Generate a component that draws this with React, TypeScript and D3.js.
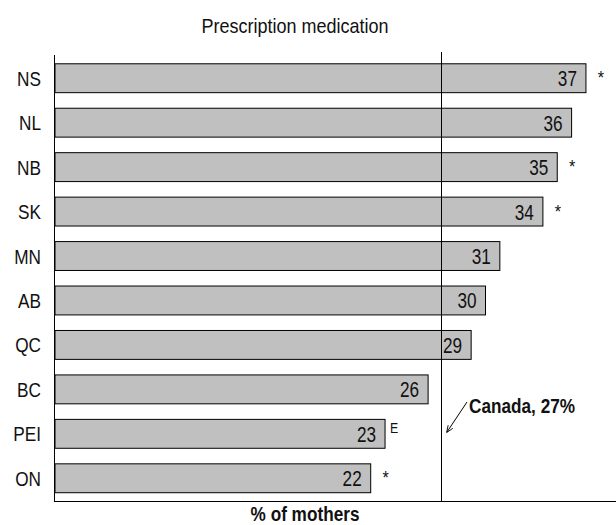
import React from "react";
import * as d3 from "d3";

// Share of mothers using prescription medication, by province
const provinces = ["NS", "NL", "NB", "SK", "MN", "AB", "QC", "BC", "PEI", "ON"];
const values = [37, 36, 35, 34, 31, 30, 29, 26, 23, 22];
const flags = ["*", "", "*", "*", "", "", "", "", "E", "*"];
const canadaValue = 27;
const titleText = "Prescription medication";
const axisTitle = "% of mothers";
const canadaLabel = "Canada, 27%";

const W = 616;
const H = 525;
const FONT = "'Liberation Sans', Arial, sans-serif";

type TProps = {
  x: number;
  y: number;
  size: number;
  sx?: number;
  anchor?: "start" | "middle" | "end";
  bold?: boolean;
  children: React.ReactNode;
};

// Text drawn with a horizontal squeeze, giving a narrow sans face
function T({ x, y, size, sx = 0.82, anchor = "start", bold = false, children }: TProps) {
  return (
    <text
      transform={`translate(${x},${y}) scale(${sx},1)`}
      textAnchor={anchor}
      fontSize={size}
      fontWeight={bold ? "bold" : "normal"}
      fill="#111"
    >
      {children}
    </text>
  );
}

export default function App() {
  const x = d3.scaleLinear().domain([0, 40]).range([55, 55 + 40 * 14.35]);
  const y = d3
    .scaleBand<string>()
    .domain(provinces)
    .range([56, 500.5])
    .paddingInner(0.35)
    .paddingOuter(0.175);

  const cx = Math.round(x(canadaValue)) - 0.5;
  const bw = y.bandwidth();

  return (
    <svg
      width={W}
      height={H}
      style={{ position: "absolute", left: 0, top: 0, background: "#fff" }}
      fontFamily={FONT}
    >
      <defs>
        <marker id="arr" viewBox="0 0 10 10" refX="9" refY="5" markerWidth="7" markerHeight="7" orient="auto">
          <path d="M0,1 L10,5 L0,9" fill="none" stroke="#000" strokeWidth="1.2" />
        </marker>
      </defs>
      <T x={295} y={33} size={20} sx={0.9} anchor="middle">
        {titleText}
      </T>

      {provinces.map((p, i) => {
        const yy = y(p)!;
        const xe = x(values[i]);
        return (
          <g key={p}>
            <rect
              x={x(0)}
              y={yy}
              width={xe - x(0)}
              height={bw}
              fill="#c0c0c0"
              stroke="#000"
              strokeWidth={1}
            />
            <T x={41} y={yy + bw / 2 + 7.5} size={21} anchor="end">
              {p}
            </T>
            <T x={xe - 9} y={yy + bw / 2 + 8} size={22} sx={0.78} anchor="end">
              {values[i]}
            </T>
            {flags[i] === "*" && (
              <T x={xe + 15} y={yy + bw / 2 + 6} size={18} sx={0.9} anchor="middle">
                *
              </T>
            )}
            {flags[i] === "E" && (
              <T x={xe + 5} y={yy + 14} size={15}>
                E
              </T>
            )}
          </g>
        );
      })}

      {/* vertical axis */}
      <line x1={54.5} x2={54.5} y1={55} y2={502} stroke="#000" strokeWidth={1} />
      {/* horizontal baseline */}
      <line x1={54} x2={616} y1={501.5} y2={501.5} stroke="#000" strokeWidth={1} />
      {/* national average reference line */}
      <line x1={cx} x2={cx} y1={52} y2={502} stroke="#000" strokeWidth={1} />

      <line x1={467} y1={402} x2={447} y2={432} stroke="#000" strokeWidth={1} markerEnd="url(#arr)" />
      <T x={469} y={413} size={20} sx={0.86} bold>
        {canadaLabel}
      </T>

      <T x={305} y={521} size={20} sx={0.86} bold anchor="middle">
        {axisTitle}
      </T>
    </svg>
  );
}
